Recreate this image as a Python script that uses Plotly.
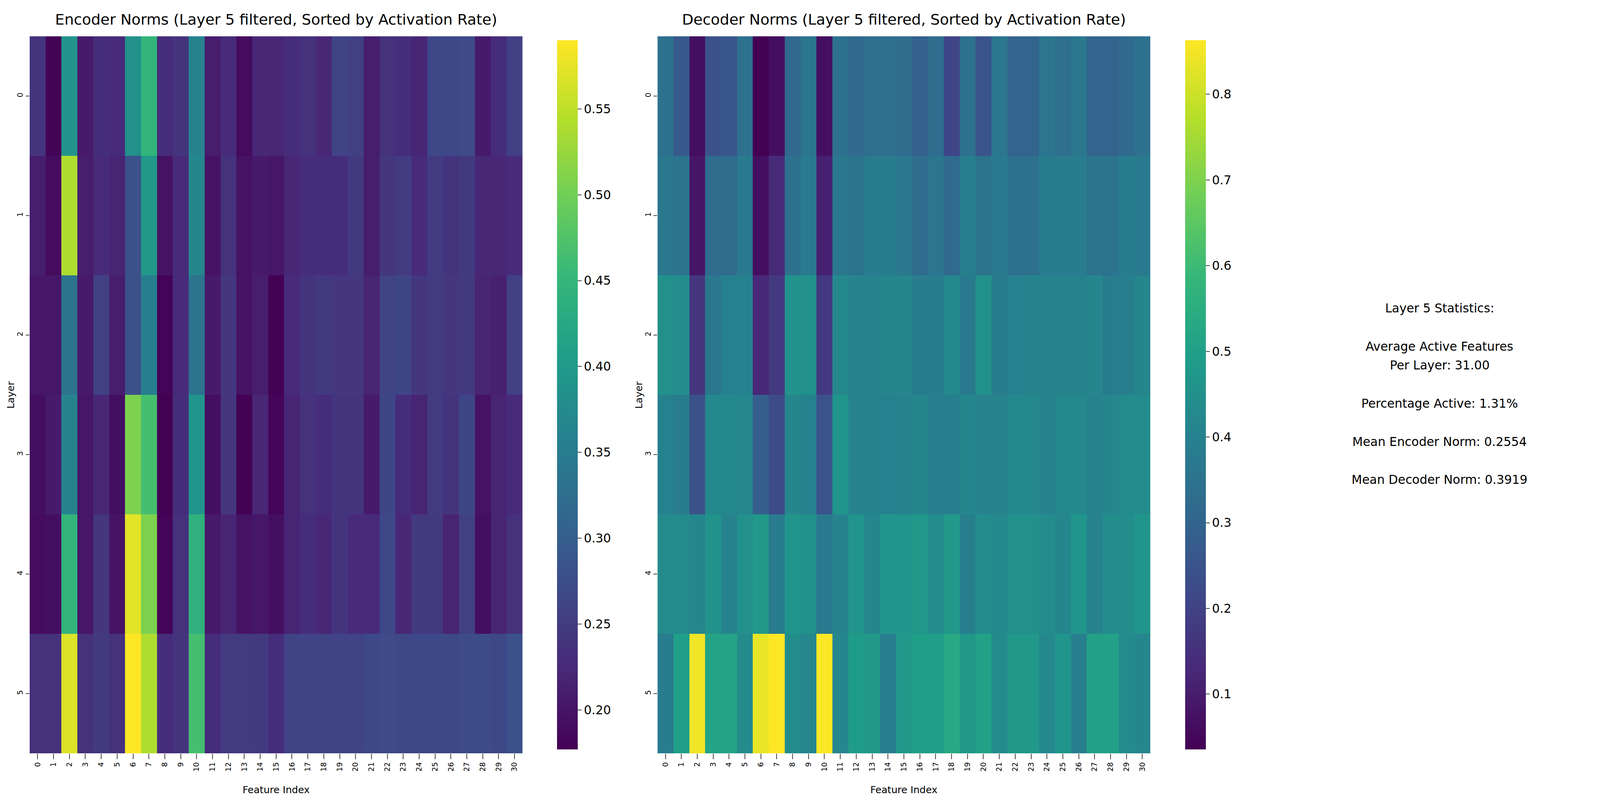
import plotly.graph_objects as go

# feature / layer indices
features = list(range(31))
layers = [0, 1, 2, 3, 4, 5]

# encoder norms, one list per layer
enc_l0 = [0.239, 0.180, 0.390, 0.206, 0.230, 0.227, 0.384, 0.446, 0.230, 0.240, 0.363, 0.210, 0.227, 0.190, 0.222, 0.222,
          0.230, 0.235, 0.222, 0.260, 0.256, 0.210, 0.235, 0.230, 0.220, 0.268, 0.268, 0.270, 0.206, 0.230, 0.256]
enc_l1 = [0.210, 0.190, 0.540, 0.210, 0.227, 0.218, 0.280, 0.396, 0.198, 0.227, 0.367, 0.198, 0.235, 0.198, 0.206, 0.202,
          0.222, 0.230, 0.230, 0.230, 0.247, 0.210, 0.243, 0.250, 0.227, 0.250, 0.239, 0.247, 0.222, 0.222, 0.227]
enc_l2 = [0.202, 0.202, 0.334, 0.206, 0.256, 0.210, 0.280, 0.355, 0.181, 0.227, 0.334, 0.206, 0.243, 0.198, 0.210, 0.177,
          0.227, 0.239, 0.247, 0.243, 0.243, 0.218, 0.260, 0.264, 0.243, 0.250, 0.243, 0.247, 0.218, 0.214, 0.256]
enc_l3 = [0.194, 0.206, 0.363, 0.202, 0.222, 0.194, 0.507, 0.466, 0.177, 0.230, 0.392, 0.194, 0.243, 0.177, 0.222, 0.181,
          0.218, 0.235, 0.230, 0.239, 0.239, 0.206, 0.264, 0.230, 0.218, 0.250, 0.239, 0.264, 0.198, 0.218, 0.227]
enc_l4 = [0.190, 0.194, 0.446, 0.202, 0.243, 0.198, 0.573, 0.507, 0.181, 0.235, 0.441, 0.206, 0.218, 0.198, 0.202, 0.194,
          0.218, 0.230, 0.222, 0.239, 0.227, 0.227, 0.268, 0.222, 0.247, 0.247, 0.218, 0.256, 0.194, 0.218, 0.235]
enc_l5 = [0.235, 0.235, 0.569, 0.235, 0.247, 0.235, 0.590, 0.540, 0.230, 0.239, 0.466, 0.230, 0.250, 0.250, 0.247, 0.230,
          0.260, 0.260, 0.260, 0.260, 0.260, 0.268, 0.270, 0.268, 0.268, 0.268, 0.268, 0.272, 0.272, 0.268, 0.280]

# decoder norms, one list per layer
dec_l0 = [0.342, 0.267, 0.069, 0.242, 0.259, 0.342, 0.036, 0.069, 0.310, 0.358, 0.069, 0.342, 0.317, 0.333, 0.333, 0.325,
          0.292, 0.325, 0.209, 0.342, 0.250, 0.366, 0.300, 0.300, 0.358, 0.333, 0.366, 0.300, 0.300, 0.317, 0.342]
dec_l1 = [0.366, 0.350, 0.085, 0.325, 0.325, 0.375, 0.069, 0.135, 0.342, 0.375, 0.110, 0.366, 0.350, 0.383, 0.383, 0.366,
          0.325, 0.358, 0.317, 0.391, 0.350, 0.375, 0.342, 0.342, 0.383, 0.383, 0.383, 0.350, 0.350, 0.383, 0.375]
dec_l2 = [0.450, 0.440, 0.168, 0.366, 0.400, 0.400, 0.127, 0.176, 0.458, 0.450, 0.176, 0.424, 0.408, 0.408, 0.416, 0.416,
          0.383, 0.383, 0.424, 0.375, 0.450, 0.383, 0.400, 0.408, 0.408, 0.408, 0.408, 0.416, 0.383, 0.391, 0.416]
dec_l3 = [0.400, 0.383, 0.242, 0.424, 0.424, 0.416, 0.284, 0.226, 0.416, 0.400, 0.250, 0.466, 0.408, 0.408, 0.400, 0.408,
          0.416, 0.391, 0.391, 0.416, 0.408, 0.408, 0.424, 0.424, 0.408, 0.424, 0.424, 0.408, 0.416, 0.433, 0.433]
dec_l4 = [0.433, 0.433, 0.416, 0.458, 0.408, 0.450, 0.474, 0.383, 0.466, 0.450, 0.375, 0.408, 0.466, 0.416, 0.466, 0.466,
          0.474, 0.440, 0.474, 0.391, 0.440, 0.424, 0.450, 0.450, 0.440, 0.416, 0.466, 0.408, 0.440, 0.440, 0.466]
dec_l5 = [0.383, 0.499, 0.846, 0.515, 0.515, 0.433, 0.838, 0.863, 0.440, 0.416, 0.860, 0.416, 0.490, 0.474, 0.391, 0.474,
          0.499, 0.499, 0.532, 0.474, 0.507, 0.433, 0.474, 0.474, 0.424, 0.466, 0.391, 0.507, 0.507, 0.433, 0.416]

enc_ticks = [0.20, 0.25, 0.30, 0.35, 0.40, 0.45, 0.50, 0.55]
dec_ticks = [0.1, 0.2, 0.3, 0.4, 0.5, 0.6, 0.7, 0.8]

stats_lines = [
    "Layer 5 Statistics:",
    "",
    "Average Active Features",
    "Per Layer: 31.00",
    "",
    "Percentage Active: 1.31%",
    "",
    "Mean Encoder Norm: 0.2554",
    "",
    "Mean Decoder Norm: 0.3919",
]

# positions are measured on the 7169x2069 reference and used as paper fractions,
# so the figure fills whatever window it is opened in
REF_W, REF_H = 7169, 2069
F = 0.76  # font scale for the (narrower) window the page is actually shown in
FONT = "DejaVu Sans"

enc = [enc_l0, enc_l1, enc_l2, enc_l3, enc_l4, enc_l5]
dec = [dec_l0, dec_l1, dec_l2, dec_l3, dec_l4, dec_l5]

enc_x0, enc_x1 = 133, 2341
dec_x0, dec_x1 = 2946, 5154
top, bottom = 93, 1929
ydom = [1 - bottom / REF_H, 1 - top / REF_H]


def cbar(x_px, ticks, fmt):
    return dict(
        x=x_px / REF_W, xanchor="left", y=sum(ydom) / 2, yanchor="middle",
        len=(bottom - top) / REF_H, lenmode="fraction",
        thickness=92 / REF_W, thicknessmode="fraction",
        outlinewidth=0, ticks="outside", ticklen=10, tickwidth=2,
        tickvals=ticks, tickformat=fmt,
        tickfont=dict(family=FONT, size=41 * F, color="black"),
    )


def note(text, x, y, size, **kw):
    return dict(text=text, x=x, y=y, xref="paper", yref="paper", showarrow=False,
                xanchor="center", yanchor="middle", font=dict(size=size), **kw)


fig = go.Figure()
fig.add_trace(go.Heatmap(
    z=enc, x=features, y=layers, colorscale="Viridis",
    zmin=0.177, zmax=0.590, xaxis="x", yaxis="y",
    colorbar=cbar(2478, enc_ticks, ".2f"),
))
fig.add_trace(go.Heatmap(
    z=dec, x=features, y=layers, colorscale="Viridis",
    zmin=0.0355, zmax=0.863, xaxis="x2", yaxis="y2",
    colorbar=cbar(5292, dec_ticks, ".1f"),
))

tick_font = dict(family=FONT, size=25 * F, color="black")
xax = dict(tickvals=features, ticktext=[str(f) for f in features], tickangle=-90,
           ticks="outside", ticklen=14, tickwidth=2, tickfont=tick_font,
           range=[-0.5, 30.5], showgrid=False, zeroline=False, showline=False)
yax = dict(tickvals=layers, ticktext=[str(l) for l in layers], tickangle=-90,
           ticks="outside", ticklen=9, tickwidth=2, tickfont=tick_font,
           range=[5.5, -0.5], showgrid=False, zeroline=False, showline=False,
           domain=ydom)

fig.update_layout(
    autosize=True,
    margin=dict(l=0, r=0, t=0, b=0),
    paper_bgcolor="white", plot_bgcolor="white",
    font=dict(family=FONT, color="black"),
    xaxis=dict(xax, domain=[enc_x0 / REF_W, enc_x1 / REF_W], anchor="y"),
    yaxis=dict(yax, anchor="x"),
    xaxis2=dict(xax, domain=[dec_x0 / REF_W, dec_x1 / REF_W], anchor="y2"),
    yaxis2=dict(yax, anchor="x2"),
)

annotations = []
for x0, x1, title in [(enc_x0, enc_x1, "Encoder Norms (Layer 5 filtered, Sorted by Activation Rate)"),
                      (dec_x0, dec_x1, "Decoder Norms (Layer 5 filtered, Sorted by Activation Rate)")]:
    cx = (x0 + x1) / 2 / REF_W
    annotations.append(note(title, cx, 1 - 50 / REF_H, 50 * F))
    annotations.append(note("Feature Index", cx, 1 - 2022 / REF_H, 33 * F))
    annotations.append(note("Layer", (x0 - 85) / REF_W, sum(ydom) / 2, 33 * F, textangle=-90))

# stats text block, one annotation per line
line_h = 48.8
for i, line in enumerate(stats_lines):
    if not line:
        continue
    annotations.append(note(line, 6450 / REF_W, 1 - (789 + i * line_h) / REF_H, 41 * F))

fig.update_layout(annotations=annotations)

fig.write_html(
    "out.html",
    config={"displayModeBar": False},
    default_width="100vw",
    default_height="100vh",
    post_script="document.body.style.margin='0'; document.body.style.overflow='hidden';",
)
